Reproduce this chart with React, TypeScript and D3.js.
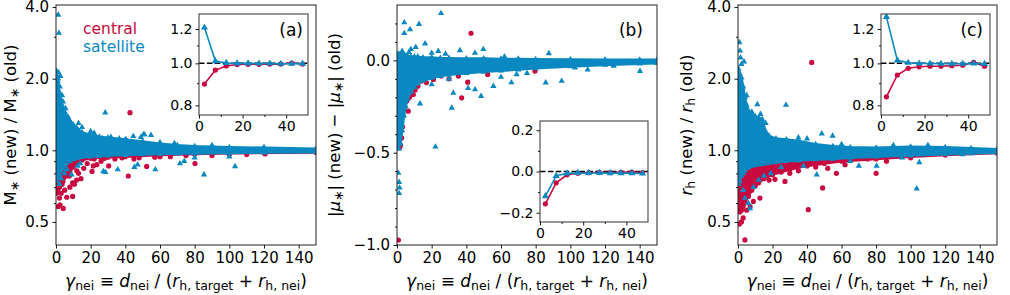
import React, { useEffect, useRef } from "react";
import * as d3 from "d3";

// ---------- shared ----------
const RED = "#c8083e";
const BLUE = "#0a88c2";
const FONT = "DejaVu Sans, Verdana, sans-serif";
const TOP = 5;
const BOTTOM = 245;

const xMajor = [0, 20, 40, 60, 80, 100, 120, 140];
const logMajor = [0.5, 1, 2, 4];
const logMinor = [0.6, 0.7, 0.8, 0.9, 3];
const muMajor = [-1, -0.5, 0];
const muMinor = [-0.9, -0.8, -0.7, -0.6, -0.4, -0.3, -0.2, -0.1, 0.1, 0.2];
const inXMajor = [0, 20, 40];
const inXMinor = [10, 30];
const inLogMajor = [0.8, 1.0, 1.2];
const inLogMinor = [0.9, 1.1];
const inMuMajor = [-0.2, 0, 0.2];
const inMuMinor = [-0.1, 0.1];

// inset bin centres
const binX = [2.5, 7.5, 12.5, 17.5, 22.5, 27.5, 32.5, 37.5, 42.5, 47.5];

// ---------- panel (a): M* ratio ----------
const aSatX = [0.3, 1, 2, 3, 4, 5, 6, 8, 10, 12, 15, 20, 25, 30, 40, 50, 60, 70, 80, 100, 120, 150];
const aSatHi = [2.15, 1.95, 1.75, 1.62, 1.52, 1.45, 1.4, 1.33, 1.28, 1.24, 1.19, 1.16, 1.14, 1.13, 1.11, 1.09, 1.065, 1.05, 1.04, 1.03, 1.025, 1.016];
const aSatLo = [0.74, 0.77, 0.79, 0.82, 0.84, 0.86, 0.88, 0.9, 0.915, 0.925, 0.935, 0.94, 0.945, 0.95, 0.955, 0.96, 0.965, 0.968, 0.97, 0.975, 0.978, 0.982];
const aCenX = [0.3, 1, 2, 3, 4, 6, 8, 10, 12, 15, 20, 30, 40, 60, 80, 100, 150];
const aCenHi = [0.97, 0.97, 0.97, 0.97, 0.97, 0.97, 0.97, 0.97, 0.97, 0.97, 0.97, 0.97, 0.97, 0.98, 0.98, 0.98, 0.99];
const aCenLo = [0.66, 0.68, 0.7, 0.72, 0.74, 0.78, 0.82, 0.85, 0.88, 0.91, 0.925, 0.935, 0.94, 0.955, 0.965, 0.972, 0.98];
const aCenPts: [number, number][] = [
  [42.7, 1.44], [1.3, 0.58], [2.3, 0.59], [4.2, 0.57], [6.2, 0.635], [9.6, 0.64], [7.7, 0.78],
  [9.6, 0.73], [10.6, 0.72], [11.9, 0.75], [14.4, 0.76], [20.8, 0.815], [21.5, 0.86], [23.5, 0.87],
  [30.4, 0.86], [41.7, 0.78], [52.3, 0.856], [80.2, 0.88], [120.6, 0.965], [16, 0.84], [18, 0.88],
  [26, 0.9], [34, 0.92], [45, 0.92], [60, 0.94], [38, 0.93], [12, 0.82], [13, 0.8], [5, 0.68],
  [3, 0.66], [8, 0.7], [2, 0.63], [3.5, 0.72], [48, 0.93], [57, 0.935], [66, 0.94], [90, 0.95],
  [110, 0.96], [75, 0.95], [28, 0.925], [22, 0.92], [100, 0.96],
];
const aSatPts: [number, number][] = [
  [1.3, 3.71], [1.7, 3.11], [1.5, 2.12], [2.5, 2.05], [28.4, 1.44], [8.7, 1.3], [11.5, 1.18],
  [17.3, 1.1], [26.9, 1.12], [31.7, 1.135], [36.5, 1.12], [40.4, 1.11], [49, 1.135], [51, 1.165],
  [54.8, 1.157], [68.3, 1.07], [44.6, 1.145], [50.4, 1.165], [35.6, 0.83], [28.5, 0.81],
  [27.3, 0.815], [45.2, 0.85], [47.1, 0.87], [57.3, 0.83], [74, 0.9], [71.5, 0.88], [85.4, 0.79],
  [103.3, 0.856], [9, 0.79], [5, 0.8], [3, 0.76], [2, 0.72], [6.5, 0.83], [12.5, 0.86], [14, 0.88],
  [20, 1.2], [22, 1.18], [15, 1.25], [13, 1.3], [7, 1.38], [5.5, 1.5], [4, 1.6], [2.2, 1.85],
  [1.2, 2.0], [3.5, 1.7], [60, 1.08], [90, 1.05], [120, 1.03], [80, 0.93], [100, 0.94],
];
const aInCen = [0.896, 0.965, 0.986, 0.994, 0.995, 0.995, 0.996, 0.996, 1.002, 0.996];
const aInSat = [1.21, 1.012, 1.002, 1.0, 1.0, 0.999, 0.999, 0.998, 0.998, 0.998];

// ---------- panel (b): |mu*| difference ----------
const bSatX = [0.3, 1, 2, 3, 4, 5, 6, 8, 10, 12, 15, 20, 25, 30, 40, 50, 60, 70, 80, 100, 120, 140, 150];
const bSatHi = [0.03, 0.035, 0.03, 0.03, 0.03, 0.025, 0.025, 0.02, 0.02, 0.02, 0.015, 0.015, 0.012, 0.012, 0.01, 0.01, 0.008, 0.008, 0.006, 0.005, 0.004, 0.003, 0.003];
const bSatLo = [-0.47, -0.48, -0.45, -0.38, -0.3, -0.25, -0.21, -0.17, -0.145, -0.125, -0.11, -0.095, -0.085, -0.078, -0.07, -0.062, -0.056, -0.05, -0.043, -0.033, -0.025, -0.018, -0.015];
const bCenPts: [number, number][] = [
  [1.5, -0.47], [2, -0.46], [1.2, -0.44], [2.7, -0.42], [3.2, -0.36], [3.5, -0.3], [4.5, -0.25],
  [5.6, -0.22], [6.5, -0.275], [7.2, -0.2], [9.4, -0.185], [10.5, -0.16], [14.2, -0.112],
  [21, -0.103], [25.4, -0.085], [35.4, -0.085], [37.3, -0.203], [40.8, -0.118], [42.7, 0.147],
  [52.3, -0.076], [79.6, -0.058], [117, -0.016], [0.8, -0.973], [0.5, -0.05], [0.6, -0.1],
  [0.7, -0.2], [1, -0.3], [0.4, -0.38], [12, -0.14], [17, -0.12], [30, -0.1], [60, -0.05],
];
const bSatPts: [number, number][] = [
  [25.4, 0.255], [4.2, 0.205], [7.5, 0.168], [12.7, 0.196], [4.2, 0.147], [16.2, 0.091],
  [10.8, 0.072], [6.9, 0.045], [3, 0.05], [23.8, 0.05], [36.3, 0.054], [49.8, 0.06], [87.6, 0.038],
  [32.5, -0.176], [31.6, -0.257], [22.2, -0.468], [13.3, -0.234], [48.5, -0.194], [45, -0.158],
  [55.6, -0.14], [41, -0.15], [0.8, -0.61], [1.2, -0.66], [1.5, -0.69], [1.2, -0.72],
  [140.2, -0.058], [95, -0.112], [85.8, -0.121], [69, -0.076], [102.7, -0.04], [30, -0.1],
  [20, -0.13], [20, 0.04], [28, 0.035], [45, 0.04], [62, 0.02], [8, 0.06], [60, -0.09],
  [66, -0.12], [75, -0.07], [110, -0.05], [125, -0.03],
];
const bInCen = [-0.157, -0.055, -0.016, -0.008, -0.006, -0.005, -0.005, -0.004, -0.003, -0.005];
const bInSat = [-0.12, -0.021, -0.009, -0.007, -0.007, -0.007, -0.008, -0.008, -0.008, -0.01];

// ---------- panel (c): r_h ratio ----------
const cSatX = [0.3, 1, 2, 3, 4, 5, 6, 8, 10, 12, 14, 16, 18, 22, 28, 35, 45, 55, 65, 80, 100, 120, 135, 150];
const cSatHi = [2.2, 2.1, 2.02, 1.85, 1.67, 1.55, 1.47, 1.42, 1.39, 1.37, 1.35, 1.2, 1.15, 1.12, 1.11, 1.095, 1.06, 1.04, 1.03, 1.025, 1.035, 1.03, 1.02, 1.01];
const cSatLo = [0.72, 0.74, 0.78, 0.8, 0.82, 0.84, 0.85, 0.86, 0.865, 0.87, 0.875, 0.88, 0.885, 0.89, 0.9, 0.905, 0.915, 0.92, 0.93, 0.94, 0.95, 0.962, 0.97, 0.977];
const cCenX = [0.3, 1, 2, 3, 4, 6, 8, 10, 12, 15, 20, 25, 30, 40, 50, 60, 80, 100, 120, 150];
const cCenHi = [0.96, 0.96, 0.95, 0.95, 0.94, 0.94, 0.93, 0.93, 0.93, 0.93, 0.93, 0.93, 0.94, 0.94, 0.95, 0.95, 0.96, 0.965, 0.97, 0.98];
const cCenLo = [0.58, 0.55, 0.56, 0.58, 0.6, 0.64, 0.68, 0.71, 0.73, 0.76, 0.79, 0.81, 0.83, 0.86, 0.88, 0.9, 0.92, 0.94, 0.955, 0.975];
const cCenPts: [number, number][] = [
  [42.7, 2.34], [14.5, 1.21], [4, 0.42], [0.8, 0.49], [49, 0.695], [40.7, 0.563], [57, 0.8],
  [80, 0.8], [27.2, 0.74], [21.4, 0.755], [12.7, 0.63], [8.9, 0.61], [5, 0.56], [3, 0.52],
  [120, 0.968], [75, 0.92], [45, 0.85], [35, 0.82], [30, 0.8], [18, 0.75], [62, 0.87], [86, 0.9],
  [100, 0.93], [52, 0.84], [2, 0.5], [7, 0.58],
];
const cSatPts: [number, number][] = [
  [0.8, 2.84], [1.2, 2.62], [3.5, 2.36], [11.2, 1.56], [27.8, 1.55], [48.5, 1.175], [54.8, 1.15],
  [45.6, 0.79], [103.5, 0.69], [70, 0.86], [80.3, 0.86], [105, 0.89], [7, 0.57], [6, 0.6], [4, 0.63],
  [3, 0.68], [9, 0.7], [12, 0.75], [15, 0.78], [2, 2.3], [1.5, 2.45], [8, 1.45], [13, 1.42],
  [35, 1.13], [40, 1.12], [60, 1.06], [90, 1.05], [110, 1.05], [25, 0.85], [38, 0.86], [65, 0.9],
  [95, 0.93], [130, 0.96], [16, 1.3], [5, 1.7], [19, 0.8],
];
const cInCen = [0.837, 0.94, 0.974, 0.982, 0.985, 0.985, 0.988, 0.99, 1.005, 0.985];
const cInSat = [1.28, 1.016, 1.003, 0.999, 0.999, 0.998, 0.998, 0.998, 0.999, 0.997];

type Part = { t: string; it?: boolean; sub?: boolean };

const xLabel: Part[] = [
  { t: "γ", it: true }, { t: "nei", sub: true }, { t: " ≡ " }, { t: "d", it: true },
  { t: "nei", sub: true }, { t: " / (" }, { t: "r", it: true }, { t: "h, target", sub: true },
  { t: " + " }, { t: "r", it: true }, { t: "h, nei", sub: true }, { t: ")" },
];
const aYLabel: Part[] = [
  { t: "M" }, { t: "∗", sub: true }, { t: " (new) / M" }, { t: "∗", sub: true }, { t: " (old)" },
];
const bYLabel: Part[] = [
  { t: "|" }, { t: "μ", it: true }, { t: "∗", sub: true }, { t: "| (new) − |" }, { t: "μ", it: true },
  { t: "∗", sub: true }, { t: "| (old)" },
];
const cYLabel: Part[] = [
  { t: "r", it: true }, { t: "h", sub: true }, { t: " (new) / " }, { t: "r", it: true },
  { t: "h", sub: true }, { t: " (old)" },
];

function richText(g: any, parts: Part[], size: number, sub: number) {
  const text = g.append("text").attr("font-family", FONT).attr("font-size", size).attr("text-anchor", "middle").attr("fill", "#000");
  let down = false;
  const shift = size * 0.2;
  parts.forEach((p) => {
    const ts = text.append("tspan").text(p.t);
    if (p.it) ts.attr("font-style", "italic");
    if (p.sub) {
      ts.attr("font-size", sub);
      if (!down) ts.attr("dy", shift);
      down = true;
    } else if (down) {
      ts.attr("dy", -shift);
      down = false;
    }
  });
  return text;
}

function styleAxis(g: any, size: number) {
  g.select(".domain").remove();
  g.attr("font-size", size).attr("font-family", FONT);
  g.selectAll("line").attr("stroke", "#000").attr("stroke-width", 0.9);
  g.selectAll("text").attr("fill", "#000");
}

const triPath = d3.symbol().type(d3.symbolTriangle).size(17)() as string;
const inTriPath = d3.symbol().type(d3.symbolTriangle).size(22)() as string;

function drawMarkers(g: any, pts: [number, number][], x: any, y: any, kind: "c" | "t") {
  if (kind === "c") {
    g.selectAll(null).data(pts).join("circle")
      .attr("cx", (d: any) => x(d[0])).attr("cy", (d: any) => y(d[1])).attr("r", 2.6).attr("fill", RED);
  } else {
    g.selectAll(null).data(pts).join("path").attr("d", triPath)
      .attr("transform", (d: any) => `translate(${x(d[0])},${y(d[1])})`).attr("fill", BLUE);
  }
}

function drawBand(g: any, bx: number[], lo: number[], hi: number[], x: any, y: any, color: string, kind: "c" | "t") {
  const rows = bx.map((v, i) => ({ x: v, lo: lo[i], hi: hi[i] }));
  const area = d3.area<any>().x((d) => x(d.x)).y0((d) => y(d.lo)).y1((d) => y(d.hi));
  g.append("path").datum(rows).attr("d", area).attr("fill", color)
    .attr("stroke", color).attr("stroke-width", 2.5).attr("stroke-linejoin", "round");
  const edge: [number, number][] = [];
  rows.forEach((r) => { edge.push([r.x, r.hi]); edge.push([r.x, r.lo]); });
  drawMarkers(g, edge, x, y, kind);
}

export default function App() {
  const ref = useRef<SVGSVGElement>(null);

  useEffect(() => {
    const svg = d3.select(ref.current);
    svg.selectAll("*").remove();

    const logY = (): any => d3.scaleLog().base(2).domain([0.4, 4.08]).range([BOTTOM, TOP]);
    const panels = [
      {
        tag: "a", left: 56, right: 316, y: logY(), yMaj: logMajor, yMin: logMinor,
        satX: aSatX, satLo: aSatLo, satHi: aSatHi, cenX: aCenX, cenLo: aCenLo, cenHi: aCenHi,
        satPts: aSatPts, cenPts: aCenPts, yLabel: aYLabel, yLabelX: 16,
        inL: 199, inR: 308, inT: 14, inB: 115, inY: "log", inRef: 1, inCen: aInCen, inSat: aInSat,
        tagX: 303, tagY: 36,
      },
      {
        tag: "b", left: 397, right: 657, y: d3.scaleLinear().domain([-1, 0.3]).range([BOTTOM, TOP]),
        yMaj: muMajor, yMin: muMinor,
        satX: bSatX, satLo: bSatLo, satHi: bSatHi, cenX: null, cenLo: null, cenHi: null,
        satPts: bSatPts, cenPts: bCenPts, yLabel: bYLabel, yLabelX: 340,
        inL: 540, inR: 648, inT: 121, inB: 222, inY: "lin", inRef: 0, inCen: bInCen, inSat: bInSat,
        tagX: 643, tagY: 36,
      },
      {
        tag: "c", left: 738, right: 997, y: logY(), yMaj: logMajor, yMin: logMinor,
        satX: cSatX, satLo: cSatLo, satHi: cSatHi, cenX: cCenX, cenLo: cCenLo, cenHi: cCenHi,
        satPts: cSatPts, cenPts: cCenPts, yLabel: cYLabel, yLabelX: 692,
        inL: 881, inR: 990, inT: 14, inB: 115, inY: "log", inRef: 1, inCen: cInCen, inSat: cInSat,
        tagX: 983, tagY: 36,
      },
    ];

    panels.forEach((p: any) => {
      const x = d3.scaleLinear().domain([0, 150]).range([p.left, p.right]);
      const y = p.y;

      // CLIP + SCATTER
      const clipId = `clip-${p.tag}`;
      svg.append("clipPath").attr("id", clipId).append("rect")
        .attr("x", p.left).attr("y", TOP).attr("width", p.right - p.left).attr("height", BOTTOM - TOP);
      const plot = svg.append("g").attr("clip-path", `url(#${clipId})`);
      if (p.cenX) drawBand(plot, p.cenX, p.cenLo, p.cenHi, x, y, RED, "c");
      drawMarkers(plot, p.cenPts, x, y, "c");
      drawBand(plot, p.satX, p.satLo, p.satHi, x, y, BLUE, "t");
      drawMarkers(plot, p.satPts, x, y, "t");

      // FRAME
      svg.append("rect").attr("x", p.left).attr("y", TOP).attr("width", p.right - p.left)
        .attr("height", BOTTOM - TOP).attr("fill", "none").attr("stroke", "#222").attr("stroke-width", 1);

      // AXES
      const gx = svg.append("g").attr("transform", `translate(0,${BOTTOM})`)
        .call(d3.axisBottom(x).tickValues(xMajor).tickSize(3.5).tickPadding(3.5).tickFormat(d3.format("d")) as any);
      styleAxis(gx, 15);
      const gy = svg.append("g").attr("transform", `translate(${p.left},0)`)
        .call(d3.axisLeft(y).tickValues(p.yMaj).tickSize(3.5).tickPadding(3.5).tickFormat(d3.format(".1f")) as any);
      styleAxis(gy, 15);
      const gyMin = svg.append("g").attr("transform", `translate(${p.left},0)`)
        .call(d3.axisLeft(y).tickValues(p.yMin).tickSize(2).tickFormat(() => "") as any);
      styleAxis(gyMin, 15);

      // LABELS
      const xl = richText(svg, xLabel, 17, 12.5);
      xl.attr("x", (p.left + p.right) / 2).attr("y", 287);
      const yl = richText(svg.append("g").attr("transform", `translate(${p.yLabelX},${(TOP + BOTTOM) / 2}) rotate(-90)`), p.yLabel, 16.5, 12.5);
      yl.attr("x", 0).attr("y", 0);

      // INSET
      const ix = d3.scaleLinear().domain([0, 50]).range([p.inL, p.inR]);
      const iy: any = p.inY === "log"
        ? d3.scaleLog().domain([0.76, 1.3]).range([p.inB, p.inT])
        : d3.scaleLinear().domain([-0.245, 0.245]).range([p.inB, p.inT]);
      svg.append("rect").attr("x", p.inL).attr("y", p.inT).attr("width", p.inR - p.inL)
        .attr("height", p.inB - p.inT).attr("fill", "#fff");
      svg.append("line").attr("x1", ix(0)).attr("x2", ix(50)).attr("y1", iy(p.inRef)).attr("y2", iy(p.inRef))
        .attr("stroke", "#000").attr("stroke-width", 1.5).attr("stroke-dasharray", "5.5,2.4");
      const line = d3.line<number>().x((d, i) => ix(binX[i])).y((d) => iy(d));
      svg.append("path").datum(p.inCen).attr("d", line).attr("fill", "none").attr("stroke", RED).attr("stroke-width", 1.6);
      svg.selectAll(null).data(p.inCen).join("circle")
        .attr("cx", (d: any, i: number) => ix(binX[i])).attr("cy", (d: any) => iy(d)).attr("r", 2.6).attr("fill", RED);
      svg.append("path").datum(p.inSat).attr("d", line).attr("fill", "none").attr("stroke", BLUE).attr("stroke-width", 1.6);
      svg.selectAll(null).data(p.inSat).join("path").attr("d", inTriPath)
        .attr("transform", (d: any, i: number) => `translate(${ix(binX[i])},${iy(d)})`).attr("fill", BLUE);
      svg.append("rect").attr("x", p.inL).attr("y", p.inT).attr("width", p.inR - p.inL)
        .attr("height", p.inB - p.inT).attr("fill", "none").attr("stroke", "#444").attr("stroke-width", 1.1);
      const ixa = svg.append("g").attr("transform", `translate(0,${p.inB})`)
        .call(d3.axisBottom(ix).tickValues(inXMajor).tickSize(3.5).tickPadding(2.5).tickFormat(d3.format("d")) as any);
      styleAxis(ixa, 14);
      const ixm = svg.append("g").attr("transform", `translate(0,${p.inB})`)
        .call(d3.axisBottom(ix).tickValues(inXMinor).tickSize(2).tickFormat(() => "") as any);
      styleAxis(ixm, 14);
      const iya = svg.append("g").attr("transform", `translate(${p.inL},0)`)
        .call(d3.axisLeft(iy).tickValues(p.inY === "log" ? inLogMajor : inMuMajor).tickSize(3.5).tickPadding(3).tickFormat(d3.format(".1f")) as any);
      styleAxis(iya, 14);
      const iym = svg.append("g").attr("transform", `translate(${p.inL},0)`)
        .call(d3.axisLeft(iy).tickValues(p.inY === "log" ? inLogMinor : inMuMinor).tickSize(2).tickFormat(() => "") as any);
      styleAxis(iym, 14);

      // PANEL TAG
      svg.append("text").attr("x", p.tagX).attr("y", p.tagY).attr("text-anchor", "end")
        .attr("font-family", FONT).attr("font-size", 17).text(`(${p.tag})`);
    });

    // LEGEND TEXT
    svg.append("text").attr("x", 83).attr("y", 34).attr("font-family", FONT).attr("font-size", 15.5)
      .attr("fill", RED).text("central");
    svg.append("text").attr("x", 83).attr("y", 52).attr("font-family", FONT).attr("font-size", 15.5)
      .attr("fill", BLUE).text("satellite");
  }, []);

  return (
    <svg ref={ref} width={1010} height={295}
      style={{ position: "absolute", left: 0, top: 0, background: "#fff" }} />
  );
}
